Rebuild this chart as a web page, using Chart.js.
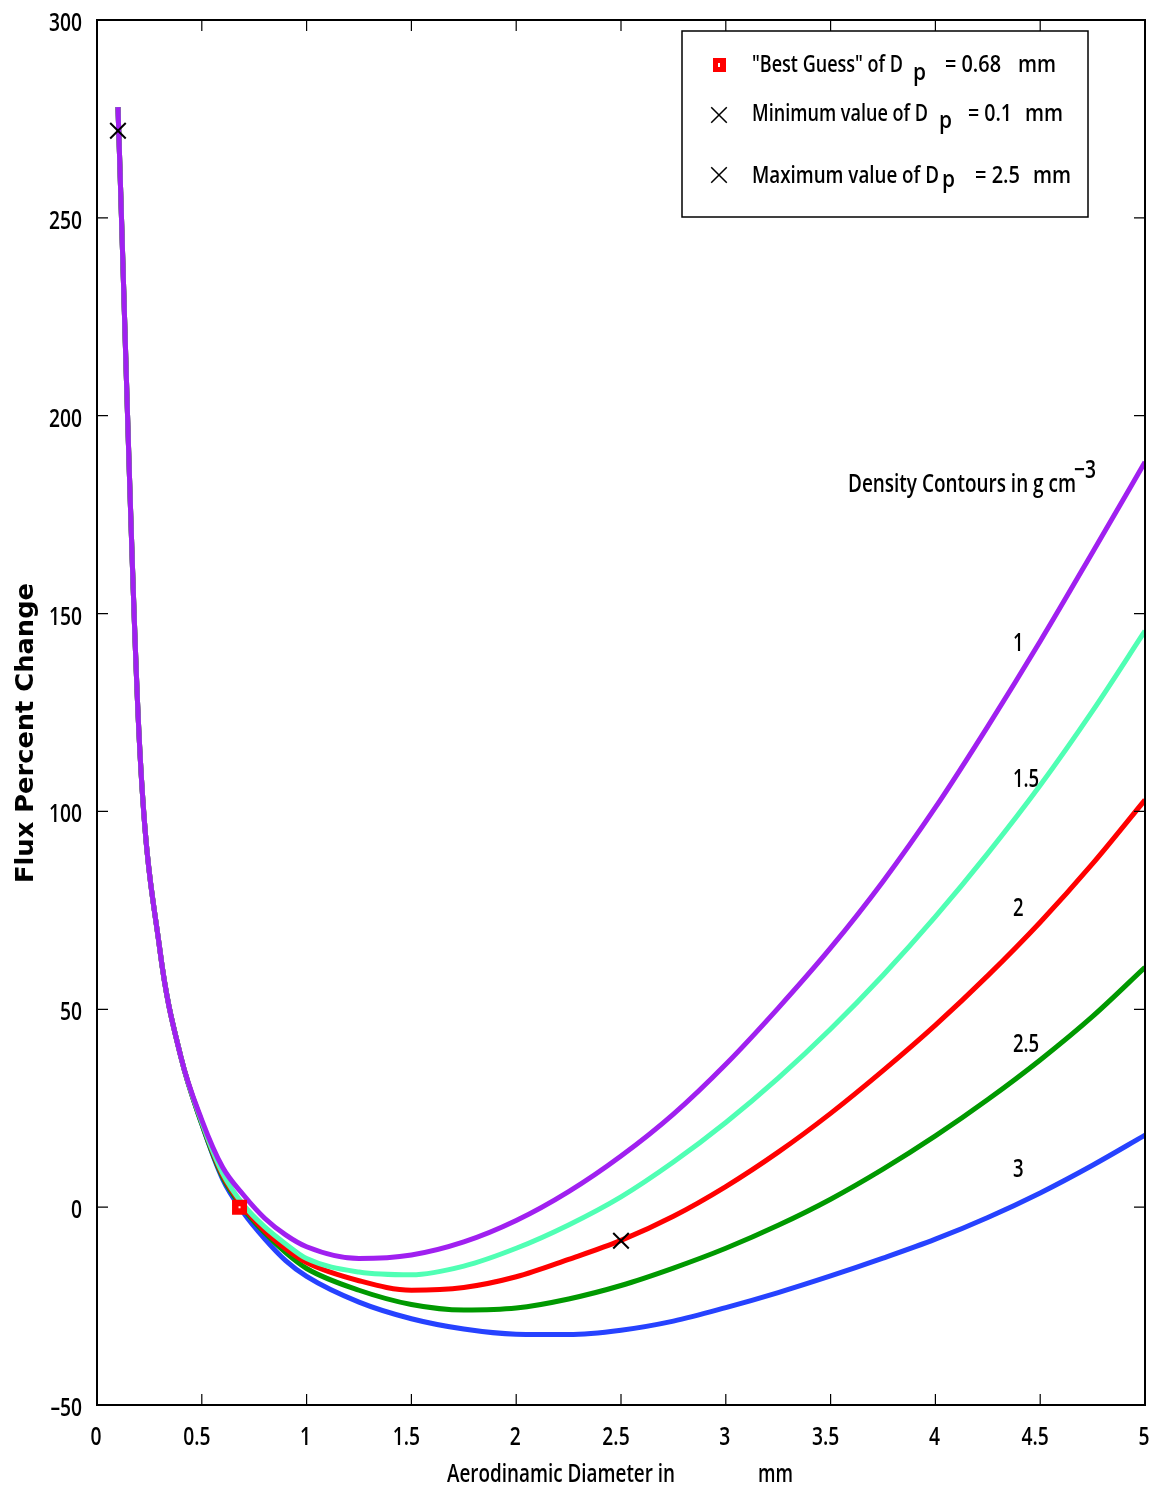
<!DOCTYPE html>
<html lang="en">
<head>
<meta charset="UTF-8" />
<title>Flux Percent Change</title>
<script src="https://cdn.jsdelivr.net/npm/chart.js"></script>
<style>
  html, body { margin: 0; padding: 0; background: #fff; }
  #wrap { width: 1159px; height: 1500px; }
</style>
</head>
<body>
<div id="wrap"><canvas id="fluxChart" width="1159" height="1500"></canvas></div>
<script>
  // aerodynamic diameter (mm)
  const diam = [0.1, 0.2, 0.3, 0.4, 0.5, 0.6, 0.7, 0.8, 0.9, 1.0,
                1.25, 1.5, 1.75, 2.0, 2.25, 2.5, 2.75, 3.0, 3.25, 3.5,
                3.75, 4.0, 4.25, 4.5, 4.75, 5.0];

  // flux percent change per density contour (g cm^-3)
  const rho1   = [278, 120, 65, 38, 22, 10, 3, -2.8, -7, -10,
                  -13, -12.1, -8.8, -3.4, 3.9, 12.9, 23.5, 36.1, 50.3, 65.5,
                  82.3, 101, 121.5, 143, 165.5, 188.3];
  const rho1_5 = [278, 120, 65, 38, 21.5, 8.5, 0.5, -5, -9.3, -13,
                  -16.4, -17.1, -14.9, -10.4, -4.5, 2.6, 11.4, 21.4, 32.6, 45,
                  58.6, 73.4, 89.4, 106.6, 125.4, 145.6];
  const rho2   = [278, 120, 65, 38, 21.5, 8, 0, -6, -10.5, -14,
                  -18.6, -21, -20.3, -17.6, -13.2, -8.4, -2.3, 5.2, 13.9, 23.7,
                  34.5, 46, 58.5, 72, 86.8, 102.9];
  const rho2_5 = [278, 120, 65, 38, 21, 7.5, -0.5, -6.5, -11.5, -15.5,
                  -21, -24.6, -26, -25.5, -23.2, -19.8, -15.4, -10.4, -4.6, 2,
                  9.6, 18, 27.2, 37.2, 48.2, 60.6];
  const rho3   = [278, 120, 65, 38, 21, 7, -1.5, -8, -13.5, -17.5,
                  -24, -28.2, -30.8, -32.1, -32.2, -31.1, -28.8, -25.4, -21.6, -17.4,
                  -12.9, -8.1, -2.6, 3.6, 10.6, 18.2];

  const densityLabels = ["1", "1.5", "2", "2.5", "3"];
  const densityLabelY = [143, 108.7, 76, 41.7, 10.1];
  const densityLabelX = 4.37;

  const bestGuess = { x: 0.68, y: 0 };
  const minDp = { x: 0.1, y: 272 };
  const maxDp = { x: 2.5, y: -8.5 };

  const xTicks = [0, 0.5, 1, 1.5, 2, 2.5, 3, 3.5, 4, 4.5, 5];
  const yTicks = [-50, 0, 50, 100, 150, 200, 250, 300];

  const colors = ["#A020F0", "#50FFB4", "#FF0000", "#009900", "#2642FF"];
  const series = [rho1, rho1_5, rho2, rho2_5, rho3];

  const FONT = '"Open Sans", "DejaVu Sans", sans-serif';

  function toPoints(vals) {
    return vals.map((v, i) => ({ x: diam[i], y: v }));
  }

  // text squeezed horizontally (condensed look); width = target px if given
  function condText(ctx, text, x, y, font, opts) {
    opts = opts || {};
    ctx.save();
    ctx.font = font;
    const w = ctx.measureText(text).width;
    const sx = opts.width ? opts.width / w : (opts.sx || 0.78);
    const drawn = w * sx;
    let x0 = x;
    if (opts.align === "center") x0 = x - drawn / 2;
    if (opts.align === "right") x0 = x - drawn;
    ctx.translate(x0, y);
    ctx.scale(sx, 1);
    ctx.textAlign = "left";
    ctx.textBaseline = opts.baseline || "alphabetic";
    ctx.fillText(text, 0, 0);
    ctx.restore();
    return drawn;
  }

  const lineSets = series.map((s, i) => ({
    label: "rho " + densityLabels[i],
    data: toPoints(s),
    borderColor: colors[i],
    backgroundColor: colors[i],
    borderWidth: 5,
    pointRadius: 0,
    cubicInterpolationMode: "monotone",
    showLine: true,
    order: 10 + i
  }));

  const markerSets = [
    {
      label: "best guess",
      data: [bestGuess],
      pointStyle: "rect",
      pointRadius: 6,
      borderWidth: 6.5,
      borderColor: "#FF0000",
      backgroundColor: "#FFFFFF",
      showLine: false,
      order: 1
    },
    {
      label: "min / max",
      data: [minDp, maxDp],
      pointStyle: "crossRot",
      pointRadius: 11,
      borderWidth: 2,
      borderColor: "#000000",
      backgroundColor: "#000000",
      showLine: false,
      order: 0
    }
  ];

  // frame with inward ticks, tick labels, titles, legend box, contour labels
  const decorations = {
    id: "decorations",
    afterDraw(chart) {
      const ctx = chart.ctx;
      const a = chart.chartArea;
      const xs = chart.scales.x, ys = chart.scales.y;
      ctx.save();
      ctx.strokeStyle = "#000";
      ctx.lineWidth = 2;
      ctx.strokeRect(a.left, a.top, a.right - a.left, a.bottom - a.top);
      ctx.lineWidth = 1.2;
      ctx.beginPath();
      xTicks.forEach(t => {
        const px = xs.getPixelForValue(t);
        ctx.moveTo(px, a.bottom); ctx.lineTo(px, a.bottom - 11);
        ctx.moveTo(px, a.top); ctx.lineTo(px, a.top + 11);
      });
      yTicks.forEach(t => {
        const py = ys.getPixelForValue(t);
        ctx.moveTo(a.left, py); ctx.lineTo(a.left + 11, py);
        ctx.moveTo(a.right, py); ctx.lineTo(a.right - 11, py);
      });
      ctx.stroke();

      ctx.fillStyle = "#000";
      const tickFont = "600 26px " + FONT;
      xTicks.forEach(t => {
        const s = String(t);
        const off = s.indexOf(".") >= 0 ? -5 : -1;
        condText(ctx, s, xs.getPixelForValue(t) + off, a.bottom + 40, tickFont, { align: "center", sx: 0.74 });
      });
      yTicks.forEach(t => {
        const s = String(t).replace("-", "\u2013");
        condText(ctx, s, a.left - 15, ys.getPixelForValue(t) + 11, tickFont, { align: "right", sx: 0.74 });
      });

      // y title
      ctx.save();
      ctx.translate(33, 733);
      ctx.rotate(-Math.PI / 2);
      condText(ctx, "Flux Percent Change", 0, 0, '600 25px "DejaVu Sans", sans-serif', { align: "center", width: 300 });
      ctx.restore();

      // x title
      const titleFont = "600 25px " + FONT;
      condText(ctx, "Aerodinamic Diameter in", 447, 1482, titleFont, { width: 228 });
      condText(ctx, "mm", 758, 1482, titleFont, { width: 35 });

      // contour labels
      const labFont = "600 25px " + FONT;
      densityLabels.forEach((lab, i) => {
        condText(ctx, lab, xs.getPixelForValue(densityLabelX), ys.getPixelForValue(densityLabelY[i]) + 10, labFont, { sx: 0.74 });
      });
      condText(ctx, "Density Contours in g cm", 848, 492, labFont, { width: 228 });
      condText(ctx, "\u22123", 1074, 478, labFont, { width: 22 });

      // legend box
      ctx.lineWidth = 1.5;
      ctx.strokeStyle = "#000";
      ctx.fillStyle = "#fff";
      ctx.fillRect(682, 31, 406, 186);
      ctx.strokeRect(682, 31, 406, 186);
      ctx.fillStyle = "#FF0000";
      ctx.fillRect(713, 58, 13, 14);
      ctx.fillStyle = "#fff";
      ctx.fillRect(718, 63, 2, 4);
      ctx.strokeStyle = "#000";
      ctx.lineWidth = 1.5;
      Chart.helpers.drawPoint(ctx, { pointStyle: "crossRot", radius: 11, borderWidth: 1.5 }, 719, 115);
      Chart.helpers.drawPoint(ctx, { pointStyle: "crossRot", radius: 11, borderWidth: 1.5 }, 719, 175);

      ctx.fillStyle = "#000";
      const legFont = "600 23px " + FONT;
      const rows = [
        { y: 72, parts: [['"Best Guess" of D', 752, 151, 0], ["p", 913, 13, 8], ["= 0.68", 945, 56, 0], ["mm", 1018, 38, 0]] },
        { y: 121, parts: [["Minimum value of D", 752, 176, 0], ["p", 939, 13, 7], ["= 0.1", 968, 44, 0], ["mm", 1025, 38, 0]] },
        { y: 183, parts: [["Maximum value of D", 752, 187, 0], ["p", 942, 13, 4], ["= 2.5", 975, 45, 0], ["mm", 1033, 38, 0]] }
      ];
      rows.forEach(r => {
        r.parts.forEach(p => condText(ctx, p[0], p[1], r.y + p[3], legFont, { width: p[2] }));
      });
      ctx.restore();
    }
  };

  new Chart(document.getElementById("fluxChart"), {
    type: "scatter",
    data: { datasets: markerSets.concat(lineSets) },
    options: {
      responsive: false,
      animation: false,
      events: [],
      layout: { padding: { left: 0, top: 20, right: 14, bottom: 0 } },
      plugins: {
        legend: { display: false },
        tooltip: { enabled: false }
      },
      scales: {
        x: {
          type: "linear",
          min: 0,
          max: 5,
          afterFit(scale) {
            scale.height = 95;
            scale.paddingLeft = 0; scale.paddingRight = 0;
          },
          grid: { display: false, drawTicks: false },
          border: { display: false },
          ticks: { display: false }
        },
        y: {
          type: "linear",
          min: -50,
          max: 300,
          afterFit(scale) {
            scale.width = 97;
            scale.paddingTop = 0; scale.paddingBottom = 0;
          },
          grid: { display: false, drawTicks: false },
          border: { display: false },
          ticks: { display: false }
        }
      }
    },
    plugins: [decorations]
  });
</script>
</body>
</html>
